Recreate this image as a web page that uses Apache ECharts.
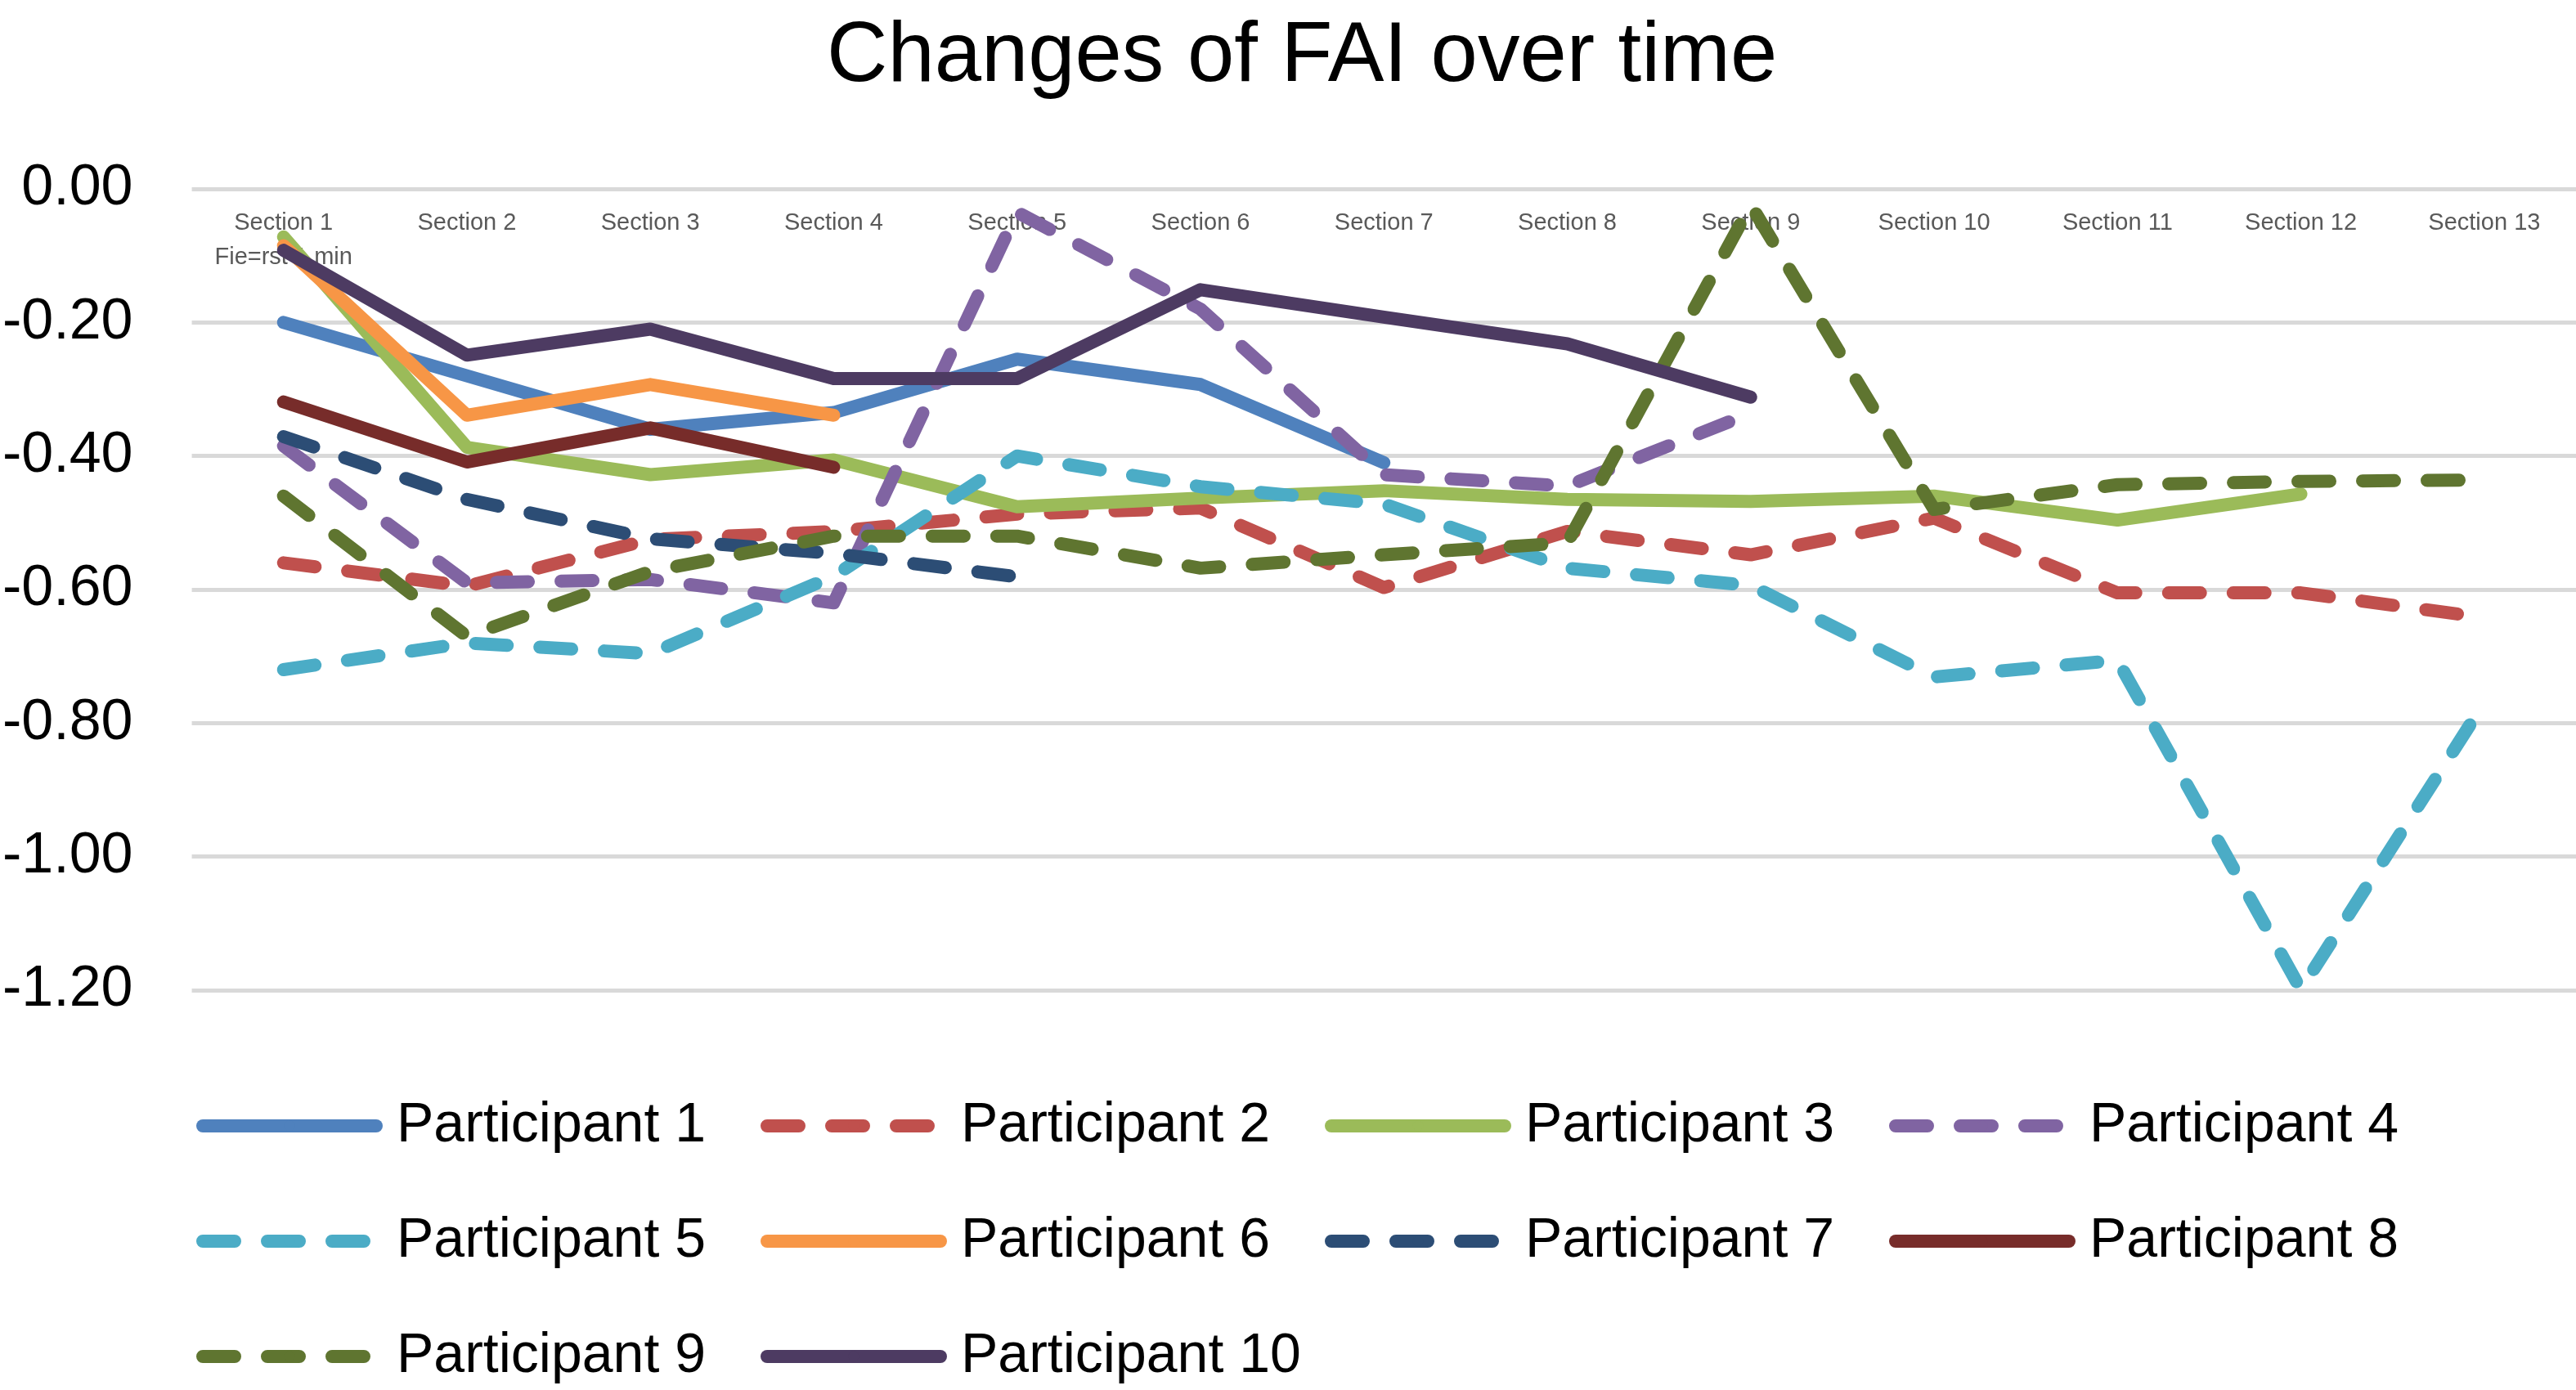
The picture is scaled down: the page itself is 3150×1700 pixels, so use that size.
<!DOCTYPE html>
<html>
<head>
<meta charset="utf-8">
<script src="https://cdn.jsdelivr.net/npm/echarts@6/dist/echarts.min.js"></script>
<style>
html,body{margin:0;padding:0;background:#fff;}
#c{width:3150px;height:1700px;}
</style>
</head>
<body>
<div id="c"></div>
<script>
const categories = ['Section 1\nFie=rst 1 min','Section 2','Section 3','Section 4','Section 5','Section 6','Section 7','Section 8','Section 9','Section 10','Section 11','Section 12','Section 13'];
const yTicks = [0, -0.2, -0.4, -0.6, -0.8, -1.0, -1.2];

const p1 = [-0.20, -0.28, -0.36, -0.335, -0.255, -0.293, -0.41];
const p2 = [-0.56, -0.595, -0.525, -0.513, -0.487, -0.478, -0.597, -0.513, -0.548, -0.493, -0.605, -0.605, -0.642];
const p3 = [-0.072, -0.387, -0.428, -0.406, -0.476, -0.463, -0.452, -0.465, -0.468, -0.46, -0.496, -0.457];
const p4 = [-0.385, -0.59, -0.585, -0.62, -0.035, -0.18, -0.428, -0.445, -0.336];
const p5 = [-0.72, -0.68, -0.696, -0.58, -0.40, -0.446, -0.472, -0.568, -0.594, -0.731, -0.706, -1.199, -0.769];
const p6 = [-0.085, -0.339, -0.293, -0.339];
const p7 = [-0.371, -0.465, -0.524, -0.546, -0.581];
const p8 = [-0.319, -0.409, -0.358, -0.417];
const p9 = [-0.46, -0.67, -0.573, -0.52, -0.52, -0.568, -0.548, -0.53, -0.024, -0.48, -0.443, -0.438, -0.436];
const p10 = [-0.092, -0.249, -0.21, -0.284, -0.284, -0.151, -0.192, -0.232, -0.312];

const names = ['Participant 1','Participant 2','Participant 3','Participant 4','Participant 5','Participant 6','Participant 7','Participant 8','Participant 9','Participant 10'];
const values = [p1,p2,p3,p4,p5,p6,p7,p8,p9,p10];
const colors = ['#4F81BD','#C0504D','#9BBB59','#8064A2','#4BACC6','#F79646','#2C4D75','#772C2A','#5F7530','#4D3B62'];
const dashed = [false,true,false,true,true,false,true,false,true,false];

const FONT = 'Liberation Sans';
const LW = 16;

const series = names.map((n,i)=>({
  name:n, type:'line', data:values[i], symbol:'none', smooth:false,
  lineStyle:{color:colors[i], width:LW, type: dashed[i] ? [39,40] : 'solid', cap:'round', join:'round'},
  itemStyle:{color:colors[i]},
  emphasis:{disabled:true},
  animation:false
}));

const chart = echarts.init(document.getElementById('c'), null, {renderer:'canvas'});
chart.setOption({
  backgroundColor:'#ffffff',
  animation:false,
  title:{text:'Changes of FAI over time', left:1006, top:14,
    textStyle:{fontFamily:FONT, fontSize:103, fontWeight:'normal', color:'#000000'}},
  grid:{left:225, right:0, top:231, bottom:489, containLabel:false},
  xAxis:{type:'category', data:categories, position:'top', boundaryGap:true,
    axisLine:{show:false}, axisTick:{show:false}, splitLine:{show:false},
    axisLabel:{inside:true, margin:21, interval:0, fontFamily:FONT, fontSize:29, lineHeight:42, color:'#595959'}},
  yAxis:{type:'value', min:-1.2, max:0, interval:0.2,
    axisLine:{show:false}, axisTick:{show:false},
    splitLine:{lineStyle:{color:'#D9D9D9', width:5}},
    axisLabel:{margin:72, fontFamily:FONT, fontSize:70, color:'#000000',
      formatter:(v)=>{ const r = Math.round(v*100)/100; const t = yTicks.find(x=>Math.abs(x-r)<1e-6); return (t===undefined? r : t).toFixed(2).replace('-0.00','0.00'); }}},
  legend:{left:235, top:1319, width:2840, orient:'horizontal', itemWidth:212, itemHeight:16, itemGap:35,
    lineStyle:{width:LW},
    textStyle:{fontFamily:FONT, fontSize:68, color:'#000000', width:410, padding:[0,0,0,20], lineHeight:106, overflow:'none'},
    data:names},
  series:series
});
</script>
</body>
</html>
